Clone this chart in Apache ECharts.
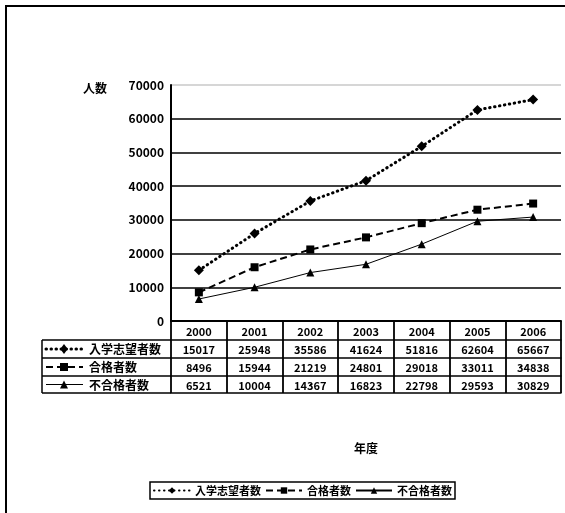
<!DOCTYPE html>
<html>
<head>
<meta charset="utf-8">
<script src="https://cdn.jsdelivr.net/npm/echarts@6/dist/echarts.min.js"></script>
<style>
  html, body { margin: 0; padding: 0; background: #fff; overflow: hidden; }
  #chart { width: 565px; height: 513px; }
</style>
</head>
<body>
<div id="chart"></div>
<script>
// Academic years (table header row)
const years = ['2000', '2001', '2002', '2003', '2004', '2005', '2006'];
// Applicants, admitted, rejected
const applicants = [15017, 25948, 35586, 41624, 51816, 62604, 65667];
const admitted   = [8496, 15944, 21219, 24801, 29018, 33011, 34838];
const rejected   = [6521, 10004, 14367, 16823, 22798, 29593, 30829];
const seriesNames = ['入学志望者数', '合格者数', '不合格者数'];
// Value axis range
const yMin = 0, yMax = 70000, yStep = 10000;

const FONT = '"Noto Sans CJK JP", "Noto Sans", sans-serif';
const INK = '#000';

// Layout of the plot and the data table beneath it
const plot = { left: 171, right: 4, top: 85, bottom: 192 };
const axisY = 513 - plot.bottom;          // y of the category axis
const rowOffsets = [19, 37, 55, 72];      // bottom edge of each table row, below the axis
const tableLeft = 42;

const rowsData = [applicants, admitted, rejected];

const boldText = (size) => ({ fontFamily: FONT, fontWeight: 'bold', fontSize: size, color: INK });

// Axis 0 carries the year header and the vertical cell borders;
// axes 1..3 hold one series row each; axis 4 closes the table.
const xAxes = [{
  type: 'category', data: years, boundaryGap: true, gridIndex: 0, position: 'bottom',
  axisLine: { lineStyle: { color: INK, width: 2 } },
  axisTick: { show: true, interval: 0, length: rowOffsets[3], lineStyle: { color: INK, width: 1.8 } },
  axisLabel: Object.assign({ margin: 5, interval: 0 }, boldText(11)),
  splitLine: { show: false }
}];
rowsData.forEach((vals, i) => {
  xAxes.push({
    type: 'category', data: years, boundaryGap: true, gridIndex: 0, position: 'bottom',
    offset: rowOffsets[i],
    axisLine: { lineStyle: { color: INK, width: 1.5 } },
    axisTick: { show: false },
    axisLabel: Object.assign({ margin: 4, interval: 0, formatter: (v, idx) => String(vals[idx]) }, boldText(11)),
    splitLine: { show: false }
  });
});
xAxes.push({
  type: 'category', data: years, boundaryGap: true, gridIndex: 0, position: 'bottom',
  offset: rowOffsets[3],
  axisLine: { lineStyle: { color: INK, width: 1.5 } },
  axisTick: { show: false },
  axisLabel: { show: false },
  name: '年度', nameLocation: 'middle', nameGap: 49,
  nameTextStyle: boldText(12),
  splitLine: { show: false }
});

// Grid lines: solid black, the top one only faintly printed
const gridColors = [];
for (let v = yMin; v <= yMax; v += yStep) gridColors.push(v === yMax ? '#c8c8c8' : INK);

// Line pattern + marker for each series
const lineStyles = [
  { type: [0.5, 4.5], width: 3, cap: 'round' },
  { type: [7, 4], width: 2 },
  { type: 'solid', width: 1 }
];
const symbols = ['diamond', 'rect', 'triangle'];
const symbolSizes = [10, 8, 8];

const graphics = [
  // outer frame (left and top edges)
  { type: 'line', shape: { x1: 6, y1: 5, x2: 6, y2: 513 }, style: { stroke: INK, lineWidth: 2 } },
  { type: 'line', shape: { x1: 5, y1: 6, x2: 565, y2: 6 }, style: { stroke: INK, lineWidth: 2 } },
  // y axis title
  { type: 'text', style: { x: 83, y: 88, text: '人数', font: 'bold 12px ' + FONT, fill: INK, verticalAlign: 'middle' } },
  // first column borders
  { type: 'line', shape: { x1: tableLeft, y1: axisY + rowOffsets[0], x2: tableLeft, y2: axisY + rowOffsets[3] }, style: { stroke: INK, lineWidth: 1.5 } }
];
rowOffsets.forEach(o => {
  graphics.push({ type: 'line', shape: { x1: tableLeft, y1: axisY + o, x2: plot.left, y2: axisY + o }, style: { stroke: INK, lineWidth: 1.5 } });
});
seriesNames.forEach((name, i) => {
  const cy = axisY + (rowOffsets[i] + rowOffsets[i + 1]) / 2;
  const ls = lineStyles[i];
  graphics.push({
    type: 'line', shape: { x1: 46, y1: cy, x2: 83, y2: cy },
    style: { stroke: INK, lineWidth: ls.width, lineDash: ls.type === 'solid' ? null : ls.type, lineCap: ls.cap || 'butt' }
  });
  const mx = 64, s = symbolSizes[i] / 2;
  if (symbols[i] === 'diamond') {
    graphics.push({ type: 'polygon', shape: { points: [[mx, cy - s], [mx + s * 0.75, cy], [mx, cy + s], [mx - s * 0.75, cy]] }, style: { fill: INK } });
  } else if (symbols[i] === 'rect') {
    graphics.push({ type: 'rect', shape: { x: mx - s, y: cy - s, width: 2 * s, height: 2 * s }, style: { fill: INK } });
  } else {
    graphics.push({ type: 'polygon', shape: { points: [[mx, cy - s], [mx + s, cy + s], [mx - s, cy + s]] }, style: { fill: INK } });
  }
  graphics.push({ type: 'text', style: { x: 89, y: cy + 0.5, text: name, font: 'bold 12px ' + FONT, fill: INK, verticalAlign: 'middle' } });
});

const series = rowsData.map((vals, i) => ({
  name: seriesNames[i],
  type: 'line',
  xAxisIndex: 0, yAxisIndex: 0,
  data: vals,
  symbol: symbols[i],
  symbolSize: symbolSizes[i],
  itemStyle: { color: INK },
  lineStyle: Object.assign({ color: INK }, lineStyles[i]),
  animation: false
}));

const chart = echarts.init(document.getElementById('chart'), null, { renderer: 'canvas' });
chart.setOption({
  backgroundColor: '#fff',
  animation: false,
  grid: plot,
  xAxis: xAxes,
  yAxis: {
    type: 'value', min: yMin, max: yMax, interval: yStep,
    axisLine: { show: true, lineStyle: { color: INK, width: 2 } },
    axisTick: { show: false },
    axisLabel: Object.assign({ margin: 7, formatter: v => String(v) }, boldText(12)),
    splitLine: { show: true, lineStyle: { color: gridColors, width: 1.5 } }
  },
  legend: {
    data: seriesNames,
    left: 150, top: 482,
    orient: 'horizontal',
    borderColor: INK, borderWidth: 1.5, borderRadius: 0,
    padding: [3, 3, 3, 3],
    itemGap: 4, itemWidth: 36, itemHeight: 8,
    textStyle: boldText(11),
    selectedMode: false
  },
  graphic: graphics,
  series: series
});
</script>
</body>
</html>
